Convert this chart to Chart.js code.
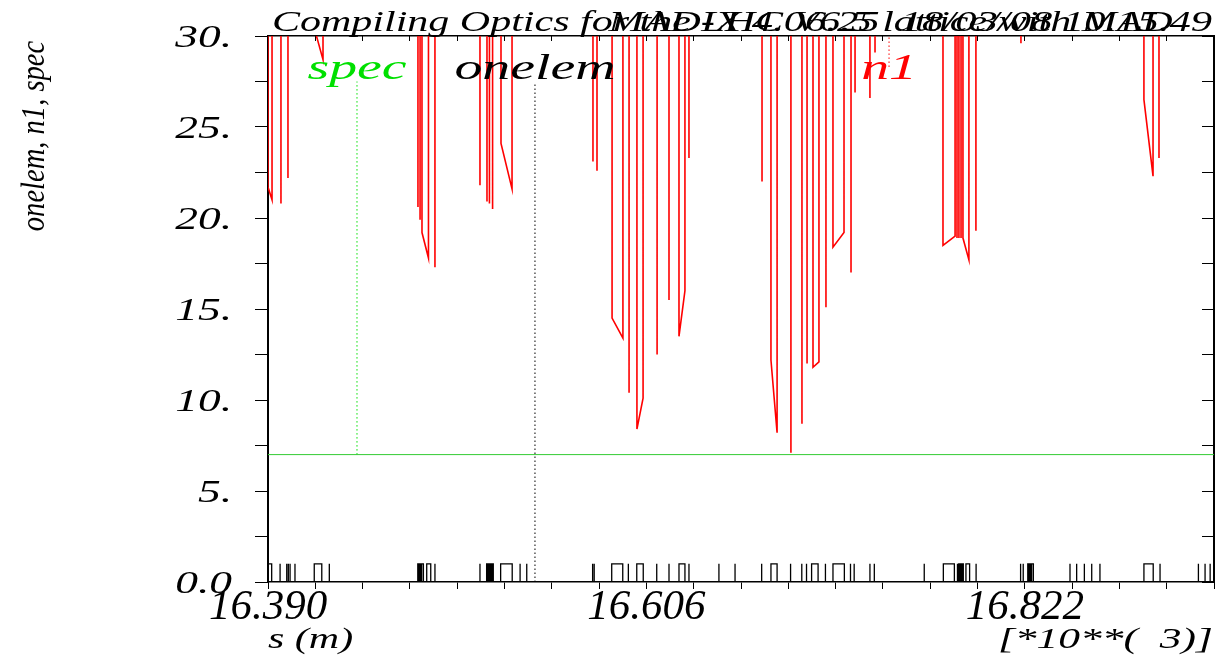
<!DOCTYPE html>
<html>
<head>
<meta charset="utf-8">
<title>onelem, n1, spec</title>
<script src="https://cdn.jsdelivr.net/npm/chart.js@4.4.1/dist/chart.umd.min.js"></script>
<style>
  html, body { margin: 0; padding: 0; background: #fff; }
  canvas { display: block; }
</style>
</head>
<body>
<canvas id="n1Chart" width="1218" height="656"></canvas>
<script>
// s is in units of 10**3 m
const sMin = 16.390;
const sMax = 16.930;
const sTickStep = 0.027;
const xTickLabels = ['16.390', '16.606', '16.822'];
const yTickLabels = ['0.0', '5.', '10.', '15.', '20.', '25.', '30.'];

const titleText = 'Compiling Optics for the LHC V6.5 lattice/with MAD';
const headerText = 'MAD-X 4.06.25  18/03/08 10.15.49';

// spec : constant aperture limit
const specS = [16.390, 16.930];
const spec = [7.0, 7.0];

// onelem : element extents (start == end for thin elements)
const elemStart = [16.3900, 16.3969, 16.4007, 16.4016, 16.4026, 16.4054, 16.4164, 16.4250,
  16.4755, 16.4766, 16.4777, 16.4806, 16.4853, 16.5110, 16.5148, 16.5159, 16.5170, 16.5181,
  16.5228, 16.5339, 16.5377, 16.5753, 16.5762, 16.5862, 16.5957, 16.6005, 16.6119, 16.6189,
  16.6246, 16.6303, 16.6474, 16.6566, 16.6718, 16.6771, 16.6883, 16.6947, 16.6974, 16.7003,
  16.7082, 16.7125, 16.7225, 16.7246, 16.7336, 16.7361, 16.7646, 16.7755, 16.7833, 16.7843,
  16.7854, 16.7865, 16.7884, 16.7942, 16.8196, 16.8211, 16.8237, 16.8248, 16.8259, 16.8478,
  16.8516, 16.8560, 16.8602, 16.8649, 16.8900, 16.8992, 16.9211, 16.9249, 16.9278];
const elemEnd = [16.3921, 16.3969, 16.4007, 16.4016, 16.4026, 16.4054, 16.4207, 16.4250,
  16.4760, 16.4771, 16.4787, 16.4829, 16.4853, 16.5110, 16.5153, 16.5164, 16.5176, 16.5186,
  16.5294, 16.5339, 16.5377, 16.5753, 16.5762, 16.5925, 16.5957, 16.6042, 16.6119, 16.6189,
  16.6280, 16.6303, 16.6474, 16.6566, 16.6718, 16.6806, 16.6883, 16.6947, 16.6974, 16.7040,
  16.7082, 16.7190, 16.7225, 16.7246, 16.7336, 16.7361, 16.7646, 16.7818, 16.7837, 16.7848,
  16.7859, 16.7869, 16.7905, 16.7942, 16.8196, 16.8211, 16.8242, 16.8253, 16.8269, 16.8478,
  16.8516, 16.8560, 16.8602, 16.8649, 16.8953, 16.8992, 16.9211, 16.9249, 16.9278];

// n1 : only the parts that come below 30 are listed, one group per element
const n1DipS = [
  [16.3900, 16.3923], [16.3974], [16.4014], [16.4171, 16.4214],
  [16.4756], [16.4768], [16.4779, 16.4816], [16.4853],
  [16.5110], [16.5150], [16.5164], [16.5182], [16.5230, 16.5293],
  [16.5755], [16.5778], [16.5864, 16.5926], [16.5961], [16.6006, 16.6041],
  [16.6121], [16.6189], [16.6246, 16.6280], [16.6303],
  [16.6720], [16.6771, 16.6806], [16.6885], [16.6948], [16.6977], [16.7011, 16.7045],
  [16.7085], [16.7125, 16.7188], [16.7228], [16.7251], [16.7336], [16.7365],
  [16.7753, 16.7822], [16.7833], [16.7844], [16.7856], [16.7867, 16.7901], [16.7941],
  [16.8198], [16.8900, 16.8952], [16.8986]
];
const n1DipVal = [
  [21.7, 21.0], [20.8], [22.2], [30.2, 28.7],
  [20.6], [19.9], [19.2, 17.8], [17.3],
  [21.8], [20.9], [20.8], [20.5], [24.1, 21.6],
  [23.1], [22.6], [14.5, 13.4], [10.4], [8.4, 10.1],
  [12.5], [15.5], [13.5, 16.0], [23.3],
  [22.0], [12.2, 8.2], [7.1], [8.7], [12.0], [11.8, 12.1],
  [15.1], [18.4, 19.2], [17.0], [26.9], [26.6], [29.1],
  [18.5, 19.0], [18.9], [18.9], [18.9], [18.9, 17.7], [19.3],
  [29.6], [26.5, 22.3], [23.3]
];
const n1Off = 40; // off-scale level between elements

// curve labels and where their dotted links sit
const curveNames = ['spec', 'onelem', 'n1'];
const curveColors = ['#00e000', '#000000', '#ff0000'];
const curveLabelS = [16.4408, 16.5424, 16.7445];
const linkFrom = [7.0, 0.0, 28.3];
const linkTo = [27.5, 27.4, n1Off];

// build the polylines
const n1Points = [];
n1DipS.forEach((ss, i) => {
  n1Points.push({ x: ss[0], y: n1Off });
  ss.forEach((s, j) => n1Points.push({ x: s, y: n1DipVal[i][j] }));
  n1Points.push({ x: ss[ss.length - 1], y: n1Off });
});

const onelemPoints = [{ x: sMin, y: 0 }];
elemStart.forEach((s0, i) => {
  onelemPoints.push({ x: s0, y: 0 }, { x: s0, y: 1 }, { x: elemEnd[i], y: 1 }, { x: elemEnd[i], y: 0 });
});
onelemPoints.push({ x: sMax, y: 0 });

const specPoints = specS.map((s, i) => ({ x: s, y: spec[i] }));

const serif = '"Liberation Serif", "Times New Roman", serif';

function stretchText(ctx, text, x, y, size, sx, align, color) {
  ctx.save();
  ctx.font = 'italic ' + size + 'px ' + serif;
  ctx.fillStyle = color;
  ctx.textAlign = align;
  ctx.textBaseline = 'alphabetic';
  ctx.translate(x, y);
  ctx.scale(sx, 1);
  ctx.fillText(text, 0, 0);
  ctx.restore();
}

const madLabels = {
  id: 'madLabels',
  afterDraw(chart) {
    const ctx = chart.ctx;
    const xs = chart.scales.x;
    const ys = chart.scales.y;

    // y tick labels
    ys.ticks.forEach(t => {
      if (t.value % 5 !== 0) return;
      stretchText(ctx, yTickLabels[t.value / 5], 232, ys.getPixelForValue(t.value) + 11, 32, 1.42, 'right', '#000');
    });

    // title lines (they overlap in the original)
    stretchText(ctx, titleText, 272, 31, 30, 1.4, 'left', '#000');
    stretchText(ctx, headerText, 1212, 31, 30, 1.42, 'right', '#000');

    // curve labels
    curveNames.forEach((name, i) => {
      stretchText(ctx, name, xs.getPixelForValue(curveLabelS[i]), 79, 36, 1.55, 'center', curveColors[i]);
    });

    // axis titles
    ctx.save();
    ctx.translate(44, 136);
    ctx.rotate(-Math.PI / 2);
    stretchText(ctx, 'onelem, n1, spec', 0, 0, 34, 0.84, 'center', '#000');
    ctx.restore();

    stretchText(ctx, 's (m)', 268, 648, 30, 1.4, 'left', '#000');
    stretchText(ctx, '[*10**(  3)]', 1213, 648, 30, 1.45, 'right', '#000');
  }
};

const ctx = document.getElementById('n1Chart').getContext('2d');

const linkSets = curveNames.map((name, i) => ({
  label: name + ' link',
  data: [{ x: curveLabelS[i], y: linkFrom[i] }, { x: curveLabelS[i], y: linkTo[i] }],
  borderColor: curveColors[i],
  borderWidth: 1,
  borderDash: [1.5, 2.5],
  pointRadius: 0
}));

const n1Chart = new Chart(ctx, {
  type: 'line',
  data: {
    datasets: [
      { label: 'n1', data: n1Points, borderColor: '#ff0000', borderWidth: 1.6, pointRadius: 0, tension: 0 },
      { label: 'onelem', data: onelemPoints, borderColor: '#000000', borderWidth: 1.3, pointRadius: 0, tension: 0 },
      { label: 'spec', data: specPoints, borderColor: '#33cc33', borderWidth: 1, pointRadius: 0, tension: 0 },
      ...linkSets
    ]
  },
  options: {
    responsive: false,
    animation: false,
    devicePixelRatio: 1,
    layout: { padding: { top: 36, right: 4, left: 0, bottom: 0 } },
    plugins: {
      legend: { display: false },
      tooltip: { enabled: false }
    },
    scales: {
      x: {
        type: 'linear',
        position: 'bottom',
        min: sMin,
        max: sMax,
        afterFit: s => { s.height = 74; },
        ticks: {
          stepSize: sTickStep,
          autoSkip: false,
          maxRotation: 0,
          minRotation: 0,
          padding: -7,
          color: '#000',
          font: { family: serif, style: 'italic', size: 43 },
          callback: (v, i) => (i % 8 === 0 ? xTickLabels[i / 8] : '')
        },
        grid: { drawOnChartArea: false, tickLength: 7, color: '#000' },
        border: { color: '#000', width: 1.5 }
      },
      xTop: {
        type: 'linear',
        position: 'top',
        min: sMin,
        max: sMax,
        afterFit: s => { s.height = 0; },
        ticks: { stepSize: sTickStep, display: false, autoSkip: false, maxRotation: 0 },
        grid: { drawOnChartArea: false, tickLength: -5, color: '#000' },
        border: { color: '#000', width: 1.5 }
      },
      y: {
        position: 'left',
        min: 0,
        max: 30,
        afterFit: s => { s.width = 268; },
        ticks: { stepSize: 2.5, display: false },
        grid: { drawOnChartArea: false, tickLength: 13, color: '#000' },
        border: { color: '#000', width: 2 }
      },
      yRight: {
        position: 'right',
        min: 0,
        max: 30,
        afterFit: s => { s.width = 0; },
        ticks: { stepSize: 2.5, display: false },
        grid: { drawOnChartArea: false, tickLength: -12, color: '#000' },
        border: { color: '#000', width: 2 }
      }
    }
  },
  plugins: [madLabels]
});
</script>
</body>
</html>
